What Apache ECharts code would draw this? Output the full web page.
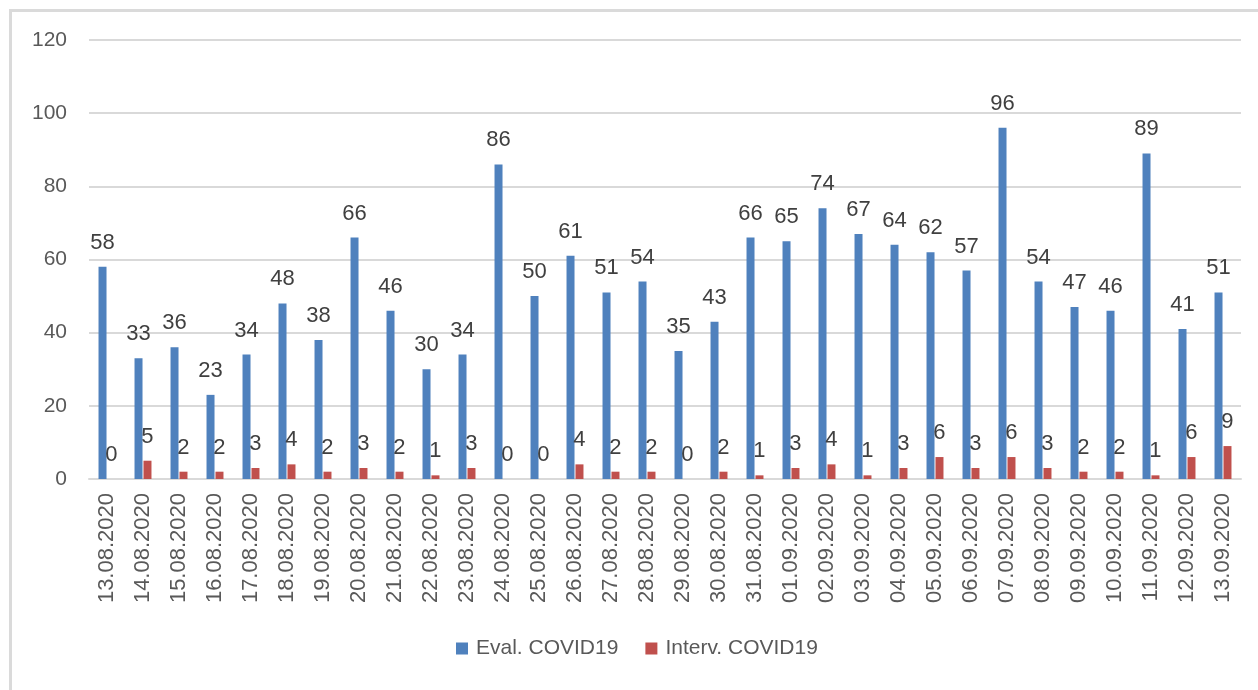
<!DOCTYPE html>
<html>
<head>
<meta charset="utf-8">
<script src="https://cdn.jsdelivr.net/npm/echarts@6/dist/echarts.min.js"></script>
<style>
  html, body { margin: 0; padding: 0; background: #fff; }
  #frame {
    position: absolute; left: 9px; top: 9px; right: 0; bottom: 0;
    border-left: 3px solid #dadada; border-top: 3px solid #dadada;
  }
  #chart { position: absolute; left: 0; top: 0; width: 1258px; height: 690px; }
</style>
</head>
<body>
<div id="frame"></div>
<div id="chart"></div>
<script>
// categories
const dates = [
  "13.08.2020", "14.08.2020", "15.08.2020", "16.08.2020", "17.08.2020", "18.08.2020",
  "19.08.2020", "20.08.2020", "21.08.2020", "22.08.2020", "23.08.2020", "24.08.2020",
  "25.08.2020", "26.08.2020", "27.08.2020", "28.08.2020", "29.08.2020", "30.08.2020",
  "31.08.2020", "01.09.2020", "02.09.2020", "03.09.2020", "04.09.2020", "05.09.2020",
  "06.09.2020", "07.09.2020", "08.09.2020", "09.09.2020", "10.09.2020", "11.09.2020",
  "12.09.2020", "13.09.2020"
];
// Eval. COVID19
const evalValues = [58, 33, 36, 23, 34, 48, 38, 66, 46, 30, 34, 86, 50, 61, 51, 54,
  35, 43, 66, 65, 74, 67, 64, 62, 57, 96, 54, 47, 46, 89, 41, 51];
// Interv. COVID19
const intervValues = [0, 5, 2, 2, 3, 4, 2, 3, 2, 1, 3, 0, 0, 4, 2, 2,
  0, 2, 1, 3, 4, 1, 3, 6, 3, 6, 3, 2, 2, 1, 6, 9];

const font = "'Liberation Sans', Arial, sans-serif";

const chart = echarts.init(document.getElementById("chart"));

const labelStyle = {
  show: true,
  position: "top",
  distance: 13,
  color: "#404040",
  fontSize: 22,
  fontFamily: font
};

const option = {
  animation: false,
  textStyle: { fontFamily: font },
  grid: { left: 89, right: 17, top: 40, bottom: 211 },
  legend: {
    top: 638,
    left: 456,
    padding: 0,
    itemWidth: 12,
    itemHeight: 12,
    itemGap: 27,
    icon: "rect",
    textStyle: { fontSize: 21, color: "#595959", fontFamily: font, padding: [0, 0, 0, 3] },
    data: ["Eval. COVID19", "Interv. COVID19"]
  },
  xAxis: {
    type: "category",
    data: dates,
    axisLine: { lineStyle: { color: "#d9d9d9", width: 2 } },
    axisTick: { show: false },
    axisLabel: {
      rotate: 90,
      interval: 0,
      margin: 14,
      fontSize: 22,
      color: "#595959",
      fontFamily: font
    }
  },
  yAxis: {
    type: "value",
    min: 0,
    max: 120,
    interval: 20,
    axisLine: { show: false },
    axisTick: { show: false },
    splitLine: { lineStyle: { color: "#d9d9d9", width: 2 } },
    axisLabel: { margin: 22, fontSize: 21, color: "#595959", fontFamily: font }
  },
  series: [
    {
      name: "Eval. COVID19",
      type: "bar",
      data: evalValues,
      barWidth: 8,
      barGap: "12%",
      itemStyle: { color: "#4f81bd" },
      label: labelStyle
    },
    {
      name: "Interv. COVID19",
      type: "bar",
      data: intervValues,
      barWidth: 8,
      barGap: "12%",
      itemStyle: { color: "#c0504d" },
      label: labelStyle
    }
  ]
};

chart.setOption(option);
</script>
</body>
</html>
